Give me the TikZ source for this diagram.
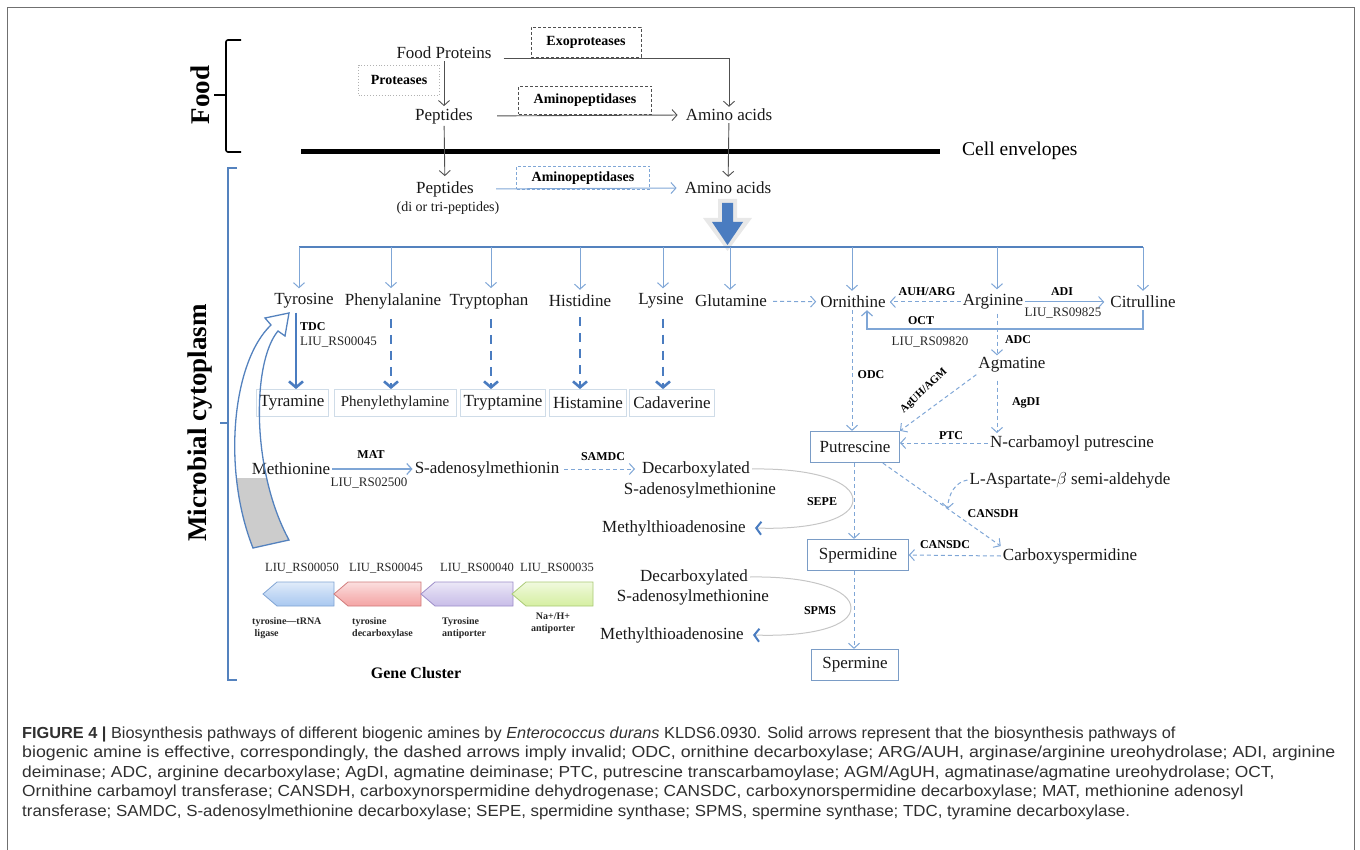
\documentclass[tikz,border=0pt]{standalone}
\usepackage{fontspec}
\setmainfont{Liberation Serif}
\newfontfamily\capfont{Liberation Sans}
\usetikzlibrary{arrows.meta,calc}
\definecolor{bl}{HTML}{5482BE}
\definecolor{lbl}{HTML}{7FA6D6}
\definecolor{dbl}{HTML}{4A7CC0}
\definecolor{bx}{HTML}{7A9CC6}
\definecolor{pbx}{HTML}{CFDCE8}
\definecolor{gr}{HTML}{505050}
\definecolor{capc}{HTML}{303030}
\definecolor{frm}{HTML}{707070}
\definecolor{g1f}{HTML}{A9C8F0}\definecolor{g1d}{HTML}{7FA3D3}
\definecolor{g2f}{HTML}{F4A4A4}\definecolor{g2d}{HTML}{D07A7A}
\definecolor{g3f}{HTML}{C8BDE8}\definecolor{g3d}{HTML}{9C8CC8}
\definecolor{g4f}{HTML}{D6EFA2}\definecolor{g4d}{HTML}{A9C975}
\begin{document}
\begin{tikzpicture}[x=1pt,y=-1pt,
  txt/.style={font=\fontsize{17}{19}\selectfont, inner sep=2pt, text=black!90},
  sml/.style={font=\fontsize{14}{16}\selectfont, inner sep=1pt, text=black!90},
  lab/.style={font=\bfseries\fontsize{12}{13}\selectfont, inner sep=1pt},
  loc/.style={font=\fontsize{13}{14}\selectfont, inner sep=1pt, text=black!85},
  enz/.style={font=\bfseries\fontsize{14}{15}\selectfont, inner sep=0pt},
  gdesc/.style={font=\bfseries\fontsize{10}{12}\selectfont, inner sep=0pt, align=left, text=black!85},
  side/.style={font=\bfseries\fontsize{27}{30}\selectfont, rotate=90, inner sep=0pt},
  gar/.style={draw=gr, line width=0.9pt, -{Straight Barb[length=5pt,width=11pt]}},
  ar/.style={draw=lbl, line width=1pt, -{Straight Barb[length=5pt,width=11pt]}},
  dar/.style={ar, dash pattern=on 4pt off 3pt},
  thk/.style={draw=dbl, line width=2.6pt, -{Straight Barb[length=6pt,width=14pt]}},
  thkd/.style={thk, dash pattern=on 9pt off 7pt},
  pbox/.style={txt, draw=pbx, line width=0.8pt, minimum height=27pt, inner xsep=3.5pt},
  mbox/.style={txt, draw=bx, line width=1.2pt, minimum height=31pt, inner xsep=9pt},
  curv/.style={draw=gray!45, line width=1pt, -{Straight Barb[length=5pt,width=13pt,line width=2pt,color=dbl]}},
  capt/.style={font=\capfont\fontsize{16}{18}\selectfont, text=capc, inner sep=0pt, anchor=base west, transform shape},
  genetag/.style={loc, font=\fontsize{12.5}{14}\selectfont},
  gene/.style={line width=0.8pt},
]
\useasboundingbox (0,0) rectangle (1360,850);
% frame
\draw[frm, line width=1pt] (7,850) -- (7,8) -- (1354,8) -- (1354,850);

% ---------- Food ----------
\node[side] (food) at (200,95) {Food};
\draw[line width=1.6pt, rounded corners=2pt] (241,40) -- (226,40) -- (226,152) -- (241,152);
\draw[line width=1.6pt] (226,95) -- (214,95);

\node[txt] (fp) at (444,53) {Food Proteins};
\node[enz, draw=gr, dash pattern=on 3pt off 2pt, line width=0.8pt, minimum width=110pt, minimum height=30pt] (exo) at (586,42) {Exoproteases};
\node[enz, draw=gray!60, dotted, line width=0.9pt, minimum width=81pt, minimum height=30pt] (prot) at (399,80) {Proteases};
\node[txt] (pep1) at (444,116) {Peptides};
\node[enz, draw=gr, dash pattern=on 3pt off 2pt, line width=0.8pt, minimum width=133pt, minimum height=28pt] (amp1) at (585,100) {Aminopeptidases};
\node[txt] (aa1) at (729,115) {Amino acids};

\coordinate (exoc) at (729,58);
\draw[gar] ($(fp.east)+(10,5)$) -- (exoc) -- (aa1.north);
\draw[gar] (fp) -- (pep1);
\draw[gar, shorten <=22pt, shorten >=6pt] (pep1.east) -- (aa1.west);

% cell envelope
\draw[line width=5pt] (301,152) -- (940,152);
\node[font=\fontsize{19.5}{22}\selectfont, anchor=west, inner sep=0pt] (env) at (962,151) {Cell envelopes};

\node[txt] (pep2) at (445,189) {Peptides};
\node[sml] (ditri) at (448,208) {(di or tri-peptides)};
\node[enz, draw=lbl, dash pattern=on 3pt off 2pt, line width=0.8pt, minimum width=133pt, minimum height=23pt] (amp2) at (583,178) {Aminopeptidases};
\node[txt] (aa2) at (728,188) {Amino acids};

\draw[gar, shorten >=3pt] (pep1) -- (pep2);
\draw[gar, shorten >=3pt] (aa1) -- (aa2);
\draw[ar, shorten <=20pt, shorten >=6pt] (pep2.east) -- (aa2.west);

% big arrow
\fill[gray!18] (718,199) -- (737,199) -- (737,218) -- (752,218) -- (727.5,251) -- (703,218) -- (718,218) -- cycle;
\fill[dbl] (722,203) -- (733,203) -- (733,222) -- (743,222) -- (727.5,245) -- (712,222) -- (722,222) -- cycle;

% ---------- Microbial cytoplasm ----------
\node[side] (cyto) at (200,423) {Microbial cytoplasm};
\draw[bl, line width=1.2pt] (237,168) -- (228,168) -- (228,680) -- (237,680);
\draw[bl, line width=1.2pt] (228,423) -- (220,423);

% main branch line
\coordinate (b1) at (299,247);
\coordinate (b2) at (391,247);
\coordinate (b3) at (491,247);
\coordinate (b4) at (580,247);
\coordinate (b5) at (663,247);
\coordinate (b6) at (730,247);
\coordinate (b7) at (852,247);
\coordinate (b8) at (997,247);
\coordinate (b9) at (1143,247);
\draw[bl, line width=2.2pt] (b1) -- (b9);

\node[txt] (tyr) at (304,301) {Tyrosine};
\node[txt] (phe) at (393,301) {Phenylalanine};
\node[txt] (trp) at (489,301) {Tryptophan};
\node[txt] (his) at (580,301) {Histidine};
\node[txt] (lys) at (661,301) {Lysine};
\node[txt] (glu) at (731,301) {Glutamine};
\node[txt] (orn) at (853,302) {Ornithine};
\node[txt] (arg) at (993,302) {Arginine};
\node[txt] (cit) at (1143,302) {Citrulline};

\foreach \b/\n in {b1/tyr,b2/phe,b3/trp,b4/his,b5/lys,b6/glu,b7/orn,b8/arg,b9/cit}
  \draw[ar, shorten >=3pt] (\b) -- (\b |- \n.north);

% amines
\node[pbox] (tyra) at (292,403) {Tyramine};
\node[pbox, font=\fontsize{15}{17}\selectfont, minimum width=122pt] (phena) at (395,403) {Phenylethylamine};
\node[pbox] (trpa) at (503,403) {Tryptamine};
\node[pbox] (hisa) at (588,403) {Histamine};
\node[pbox] (cada) at (672,403) {Cadaverine};

\coordinate (tdcx) at (296,0);
\draw[thk] ($(tyr.south -| tdcx)+(0,2)$) -- (tyra.north -| tdcx);
\node[lab, anchor=west] (tdc) at (299,327) {TDC};
\node[loc, anchor=west] (tdcg) at (299,342) {LIU\_RS00045};
\draw[thkd] ($(phe.south -| b2)+(0,8)$) -- (phena.north -| b2);
\draw[thkd] ($(trp.south -| b3)+(0,8)$) -- (trpa.north -| b3);
\draw[thkd] ($(his.south -| b4)+(0,8)$) -- (hisa.north -| b4);
\draw[thkd] ($(lys.south -| b5)+(0,8)$) -- (cada.north -| b5);

% arginine / ornithine area
\draw[dar, shorten <=4pt, shorten >=2pt] (glu) -- (orn);
\draw[dar, shorten >=2pt] (arg) -- (orn);
\node[lab] (auh) at (927,292) {AUH/ARG};
\draw[ar, shorten >=4pt] (arg.east) -- (arg.east -| cit.west);
\node[lab] (adi) at (1062,292) {ADI};
\node[loc] (adig) at (1063,313) {LIU\_RS09825};
\coordinate (octR) at (1143,329);
\coordinate (octL) at (867,329);
\draw[ar, line width=1.2pt] (cit.south) -- (octR) -- (octL) -- (octL |- orn.south);
\node[lab] (oct) at (921,321) {OCT};
\node[loc] (octg) at (930,342) {LIU\_RS09820};

\node[txt] (agm) at (1012,365) {Agmatine};
\node[txt] (ncp) at (1072,443) {N-carbamoyl putrescine};
\node[mbox] (put) at (855,447) {Putrescine};
\node[mbox, inner xsep=11pt] (spd) at (858,555) {Spermidine};
\node[mbox, inner xsep=11pt] (spm) at (855,665) {Spermine};
\node[txt] (lasp) at (1070,480) {L-Aspartate-$\beta$ semi-aldehyde};
\node[txt] (carb) at (1070,556) {Carboxyspermidine};

\draw[dar, shorten <=2pt] (arg.south -| b8) -- (agm.north -| b8);
\node[lab] (adc) at (1018,340) {ADC};
\draw[dar] (orn.south -| b7) -- (put.north -| b7);
\node[lab] (odc) at (871,375) {ODC};
\draw[dar] (agm.south west) -- (put.north east);
\node[lab, rotate=43, font=\bfseries\fontsize{11}{12}\selectfont] (aguh) at (924,391) {AgUH/AGM};
\draw[dar, shorten <=6pt] (agm.south -| b8) -- (ncp.north -| b8);
\node[lab] (agdi) at (1026,403) {AgDI};
\draw[dar] (ncp.west) -- (ncp.west -| put.east);
\node[lab] (ptc) at (951,436) {PTC};

\draw[dar] (put.south -| 854,0) -- (spd.north -| 854,0);
\draw[dar] (spd.south -| 854,0) -- (spm.north -| 854,0);
\draw[dar] (put.-30) -- (carb.north west);
\coordinate (cansdhEnd) at ($(put.-30)!0.55!(carb.north west)$);
\draw[dar] (lasp.west) .. controls (955,482) and (948,495) .. (cansdhEnd);
\node[lab] (cansdh) at (993,514) {CANSDH};
\draw[dar] (carb.west) -- (spd.east);
\node[lab] (cansdc) at (945,545) {CANSDC};

% methionine pathway
\node[txt] (met) at (291,469) {Methionine};
\node[txt] (sam) at (487,469) {S-adenosylmethionin};
\node[txt] (dec1) at (696,469) {Decarboxylated};
\node[txt] (dec1b) at (700,490) {S-adenosylmethionine};
\node[txt] (mta1) at (674,528) {Methylthioadenosine};
\draw[ar, line width=1.2pt] (met) -- (sam);
\node[lab] (mat) at (371,455) {MAT};
\node[loc] (matg) at (369,483) {LIU\_RS02500};
\draw[dar, shorten <=3pt, shorten >=5pt] (sam) -- (dec1);
\node[lab] (samdc) at (603,457) {SAMDC};
\coordinate (mta1t) at ($(mta1.east)+(7,0)$);
\draw[curv] (dec1.east) .. controls (815,468) and (853,482) .. (853,500)
  .. controls (853,518) and (815,530) .. (mta1t);
\node[lab] (sepe) at (822,502) {SEPE};

\node[txt] (dec2) at (694,577) {Decarboxylated};
\node[txt] (dec2b) at (693,597) {S-adenosylmethionine};
\node[txt] (mta2) at (672,635) {Methylthioadenosine};
\coordinate (mta2t) at ($(mta2.east)+(7,0)$);
\draw[curv] (dec2.east) .. controls (812,576) and (851,590) .. (851,608)
  .. controls (851,626) and (812,637) .. (mta2t);
\node[lab] (spms) at (820,611) {SPMS};

% curved tyrosine transport arrow
\coordinate (ttip) at (289,313);
\begin{scope}
\clip (200,478) rectangle (330,560);
\fill[gray!40] (253,548) .. controls (222,470) and (232,362) .. (271,325)
 -- (265,318) -- (ttip) -- (285,336) -- (278,331)
 .. controls (252,362) and (251,470) .. (289,540) -- cycle;
\end{scope}
\draw[bl, line width=1.3pt] (253,548) .. controls (222,470) and (232,362) .. (271,325)
 -- (265,318) -- (ttip) -- (285,336) -- (278,331)
 .. controls (252,362) and (251,470) .. (289,540) -- cycle;

% gene cluster
\node[genetag] (t50) at (302,568) {LIU\_RS00050};
\node[genetag] (t45) at (386,568) {LIU\_RS00045};
\node[genetag] (t40) at (477,568) {LIU\_RS00040};
\node[genetag] (t35) at (557,568) {LIU\_RS00035};
\shadedraw[gene, draw=g1d, top color=g1f!35!white, bottom color=g1f, middle color=g1f!70!white] (263,594) -- (277,582) -- (334,582) -- (334,606) -- (277,606) -- cycle;
\shadedraw[gene, draw=g2d, top color=g2f!35!white, bottom color=g2f, middle color=g2f!70!white] (334,594) -- (348,582) -- (421,582) -- (421,606) -- (348,606) -- cycle;
\shadedraw[gene, draw=g3d, top color=g3f!35!white, bottom color=g3f, middle color=g3f!70!white] (421,594) -- (435,582) -- (513,582) -- (513,606) -- (435,606) -- cycle;
\shadedraw[gene, draw=g4d, top color=g4f!35!white, bottom color=g4f, middle color=g4f!70!white] (512,594) -- (526,582) -- (593,582) -- (593,606) -- (526,606) -- cycle;
\node[gdesc, anchor=north west] (d1) at (252,617) {tyrosine—tRNA\\\ ligase};
\node[gdesc, anchor=north west] (d2) at (352,617) {tyrosine\\decarboxylase};
\node[gdesc, anchor=north west] (d3) at (442,617) {Tyrosine\\antiporter};
\node[gdesc, anchor=north, align=center] (d4) at (553,613) {Na+/H+\\antiporter};
\node[font=\bfseries\fontsize{16}{18}\selectfont] (gc) at (416,673) {Gene Cluster};

% ---------- caption ----------
\node[capt, xscale=1.02] (c1) at (22,738) {{\bfseries FIGURE 4 |} Biosynthesis pathways of different biogenic amines by \textit{Enterococcus durans} KLDS6.0930. Solid arrows represent that the biosynthesis pathways of};
\node[capt, xscale=1.11] (c2) at (22,757.5) {biogenic amine is effective, correspondingly, the dashed arrows imply invalid; ODC, ornithine decarboxylase; ARG/AUH, arginase/arginine ureohydrolase; ADI, arginine};
\node[capt, xscale=1.085] (c3) at (22,777) {deiminase; ADC, arginine decarboxylase; AgDI, agmatine deiminase; PTC, putrescine transcarbamoylase; AGM/AgUH, agmatinase/agmatine ureohydrolase; OCT,};
\node[capt, xscale=1.08] (c4) at (22,796.5) {Ornithine carbamoyl transferase; CANSDH, carboxynorspermidine dehydrogenase; CANSDC, carboxynorspermidine decarboxylase; MAT, methionine adenosyl};
\node[capt, xscale=1.055] (c5) at (22,816) {transferase; SAMDC, S-adenosylmethionine decarboxylase; SEPE, spermidine synthase; SPMS, spermine synthase; TDC, tyramine decarboxylase.};
\end{tikzpicture}
\end{document}
